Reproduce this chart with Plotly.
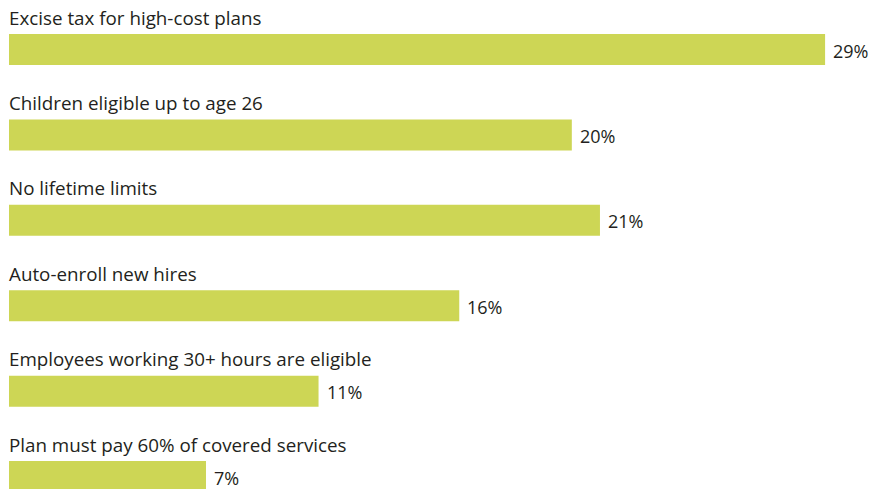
import plotly.graph_objects as go

categories = [
    "Excise tax for high-cost plans",
    "Children eligible up to age 26",
    "No lifetime limits",
    "Auto-enroll new hires",
    "Employees working 30+ hours are eligible",
    "Plan must pay 60% of covered services",
]
values = [29, 20, 21, 16, 11, 7]
value_labels = ["29%", "20%", "21%", "16%", "11%", "7%"]

BAR_COLOR = "#CDD655"
TEXT_COLOR = "#231F20"
FONT = "Open Sans"

idx = list(range(len(categories)))

fig = go.Figure(go.Bar(
    x=values, y=idx, orientation="h",
    marker=dict(color=BAR_COLOR, line=dict(width=0)),
    width=0.363, hoverinfo="skip",
))

annotations = []
for i, (c, v, lab) in enumerate(zip(categories, values, value_labels)):
    annotations.append(dict(
        x=0, y=i, xref="x", yref="y", text=c, showarrow=False,
        xanchor="left", yanchor="middle", yshift=32, xshift=-2,
        font=dict(family=FONT, size=18.8, color=TEXT_COLOR),
    ))
    annotations.append(dict(
        x=v, y=i, xref="x", yref="y", text=lab, showarrow=False,
        xanchor="left", yanchor="middle", xshift=6, yshift=-1,
        font=dict(family=FONT, size=18, color=TEXT_COLOR),
    ))

fig.update_layout(
    width=887, height=489,
    margin=dict(l=9, r=0, t=0, b=0),
    paper_bgcolor="white", plot_bgcolor="white",
    showlegend=False,
    xaxis=dict(range=[0, 31.2], visible=False, fixedrange=True),
    yaxis=dict(range=[5.146, -0.58], visible=False, fixedrange=True),
    annotations=annotations,
)

fig.write_html("out.html")
